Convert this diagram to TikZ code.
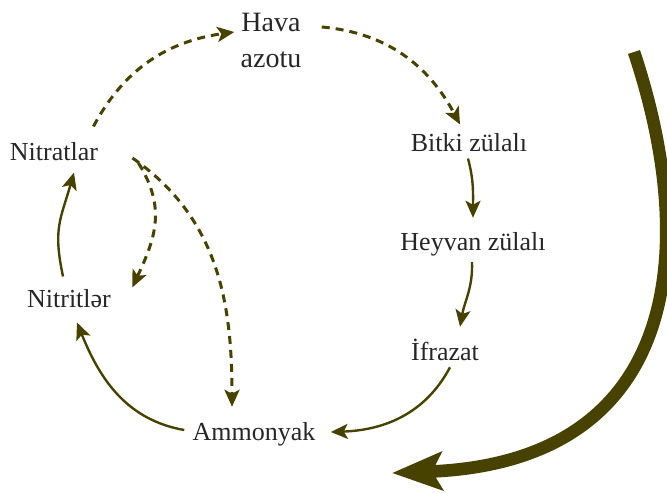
\documentclass[tikz,border=0pt]{standalone}
\usepackage{fontspec}
\setmainfont{Liberation Serif}
\usetikzlibrary{arrows.meta}
\definecolor{NOlive}{RGB}{72,66,0}

\begin{document}
\begin{tikzpicture}[x=0.5pt,y=0.5pt,>={Stealth[length=8.5pt,width=7.5pt,inset=2pt]},
  lbl/.style={font=\fontsize{13}{17.5}\selectfont,inner sep=3pt,text=black!85},
  solidflow/.style={->,draw=NOlive,line width=1.2pt},
  dashflow/.style={->,draw=NOlive,line width=1.5pt,dash pattern=on 4pt off 3pt}]
\useasboundingbox (0,0) rectangle (667,-492);
% labels
\node[lbl,align=center,font=\fontsize{14}{18}\selectfont] (hava) at (271,-40) {Hava\\azotu};
\node[lbl] (nitr) at (54,-152) {Nitratlar};
\node[lbl] (bitki) at (469,-143) {Bitki zülalı};
\node[lbl] (heyvan) at (473,-244) {Heyvan zülalı};
\node[lbl] (ifr) at (445,-350) {İfrazat};
\node[lbl] (nitrit) at (69,-299) {Nitritlər};
\node[lbl] (ammo) at (254,-434) {Ammonyak};
% big return arrow
\coordinate (bigA) at (634,-52);\coordinate (bigB) at (392,-473);
% cycle
\draw[dashflow] ([shift={(-11,10)}]nitr.north east) to[out=62,in=188] ([shift={(0,8)}]hava.west);
\draw[dashflow] ([shift={(14,13)}]hava.east) to[out=-5,in=118] ([shift={(-9,3)}]bitki.north);
\draw[solidflow] ([shift={(-1,0)}]bitki.south) to[out=-75,in=90] ([shift={(0,8)}]heyvan.north);
\draw[solidflow] ([shift={(-1,0)}]heyvan.south) to[out=-88,in=80] ([shift={(15,6)}]ifr.north);
\draw[solidflow] ([shift={(5,0)}]ifr.south) to[out=-118,in=2] ([shift={(9,2)}]ammo.east);
\draw[solidflow] ([shift={(-2,4)}]ammo.west) to[out=170,in=-68] ([shift={(8,-8)}]nitrit.south);
\draw[solidflow] ([shift={(-6,7)}]nitrit.north) to[out=102,in=-106,looseness=1.2] ([shift={(20,-5)}]nitr.south);
\draw[dashflow] ([shift={(34,-11)}]nitr.east) to[out=-58,in=65,looseness=1.1] ([shift={(15,-4)}]nitrit.north east);
\draw[dashflow] ([shift={(28,-6)}]nitr.east) to[out=-35,in=90] ([shift={(-22,9)}]ammo.north);
\draw[draw=NOlive,line width=6.3pt,-{Stealth[length=25pt,width=19pt,inset=5pt]}] (bigA) .. controls (700,-250) and (680,-462) .. (bigB);
\end{tikzpicture}
\end{document}
